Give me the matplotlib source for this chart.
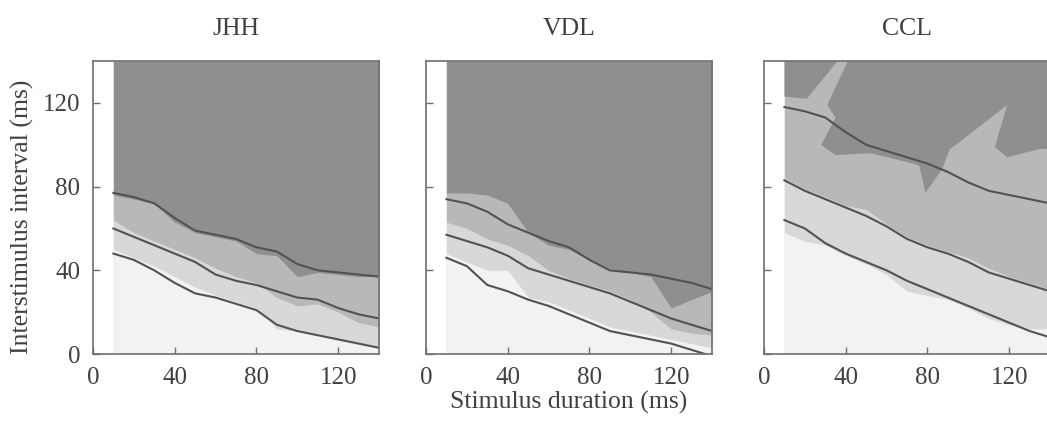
import matplotlib
matplotlib.use("Agg")
import matplotlib.pyplot as plt

plt.rcParams['font.family'] = ['Liberation Serif', 'DejaVu Serif']

# stimulus duration grid (ms)
xs = [10, 20, 30, 40, 50, 60, 70, 80, 90, 100, 110, 120, 130, 140]

# JHH
jhh_line_a = [77, 75, 72, 65, 59, 57, 55, 51, 49, 43, 40, 39, 38, 37]
jhh_line_b = [60, 56, 52, 48, 44, 38, 35, 33, 30, 27, 26, 22, 19, 17]
jhh_line_c = [48, 45, 40, 34, 29, 27, 24, 21, 14, 11, 9, 7, 5, 3]
jhh_dark_lo = [76, 74, 72, 63, 58, 56, 54, 48, 47, 37, 39, 38, 37, 37]
jhh_med_lo = [64, 58, 54, 50, 46, 41, 37, 34, 27, 23, 24, 20, 15, 13]
jhh_light_lo = [50, 46, 42, 37, 32, 28, 25, 22, 12, 11, 9, 7, 5, 4]

# VDL
vdl_line_a = [74, 72, 68, 62, 58, 54, 51, 45, 40, 39, 38, 36, 34, 31]
vdl_line_b = [57, 54, 51, 47, 41, 38, 35, 32, 29, 25, 21, 17, 14, 11]
vdl_line_c = [46, 42, 33, 30, 26, 23, 19, 15, 11, 9, 7, 5, 2, -1]
vdl_dark_lo = [77, 77, 76, 72, 58, 52, 50, 45, 41, 39, 37, 22, 26, 30]
vdl_med_lo = [63, 60, 55, 52, 47, 40, 36, 33, 30, 26, 20, 12, 10, 9]
vdl_light_lo = [48, 44, 40, 40, 27, 25, 21, 17, 13, 11, 9, 7, 5, 3]

# CCL
ccl_line_a = [118, 116, 113, 106, 100, 97, 94, 91, 87, 82, 78, 76, 74, 72]
ccl_line_b = [83, 78, 74, 70, 66, 61, 55, 51, 48, 44, 39, 36, 33, 30]
ccl_line_c = [64, 60, 53, 48, 44, 40, 35, 31, 27, 23, 19, 15, 11, 8]
ccl_med_lo = [84, 79, 75, 71, 69, 62, 56, 52, 49, 46, 41, 37, 34, 31]
ccl_light_lo = [58, 54, 52, 47, 43, 38, 30, 28, 26, 22, 17, 14, 12, 12]
# irregular dark regions of CCL (outline points)
ccl_dark1_x = [10, 36, 21, 10]
ccl_dark1_y = [140, 140, 122, 123]
ccl_dark2_x = [41, 140, 140, 135, 119, 113, 119, 94, 91, 87, 79, 76, 73, 52, 35, 28, 35, 31]
ccl_dark2_y = [140, 140, 98, 98, 94, 99, 119, 100, 98, 88, 77, 90, 91, 96, 95, 100, 113, 119]

names = ['JHH', 'VDL', 'CCL']
ticks = [0, 40, 80, 120]

c_dark = '#8f8f8f'
c_med = '#b8b8b8'
c_light = '#d8d8d8'
c_vlight = '#f2f2f2'
c_line = '#525252'
c_text = '#404040'
c_frame = '#6e6e6e'

panels = [
    (jhh_line_a, jhh_line_b, jhh_line_c, jhh_dark_lo, jhh_med_lo, jhh_light_lo),
    (vdl_line_a, vdl_line_b, vdl_line_c, vdl_dark_lo, vdl_med_lo, vdl_light_lo),
    (ccl_line_a, ccl_line_b, ccl_line_c, None, ccl_med_lo, ccl_light_lo),
]

fig = plt.figure(figsize=(10.47, 4.21), dpi=100)
lefts = [0.0888, 0.4069, 0.7297]

for i, (la, lb, lc, dark_lo, med_lo, light_lo) in enumerate(panels):
    ax = fig.add_axes([lefts[i], 0.159, 0.2732, 0.696])
    ax.set_facecolor('white')
    ax.fill_between(xs, 0, 140, color=c_vlight, lw=0)
    ax.fill_between(xs, light_lo, 140, color=c_light, lw=0)
    ax.fill_between(xs, med_lo, 140, color=c_med, lw=0)
    if dark_lo is not None:
        ax.fill_between(xs, dark_lo, 140, color=c_dark, lw=0)
    else:
        ax.fill(ccl_dark1_x, ccl_dark1_y, color=c_dark, lw=0)
        ax.fill(ccl_dark2_x, ccl_dark2_y, color=c_dark, lw=0)
    for ln in (la, lb, lc):
        ax.plot(xs, ln, color=c_line, lw=1.5)
    ax.set_xlim(0, 140)
    ax.set_ylim(0, 140)
    ax.set_xticks(ticks)
    ax.set_yticks(ticks)
    ax.tick_params(direction='in', length=5, width=1, color=c_frame,
                   labelcolor=c_text, labelsize=18, pad=9)
    if i > 0:
        ax.tick_params(labelleft=False)
    for s in ax.spines.values():
        s.set_color(c_frame)
        s.set_linewidth(1.2)
    ax.set_title(names[i], fontsize=18.5, color=c_text, pad=19)

fig.text(0.021, 0.485, 'Interstimulus interval (ms)', rotation=90,
         ha='center', va='center', fontsize=18.5, color=c_text)
fig.text(0.5435, 0.043, 'Stimulus duration (ms)',
         ha='center', va='center', fontsize=18.5, color=c_text)

fig.savefig('out.png', dpi=100)
